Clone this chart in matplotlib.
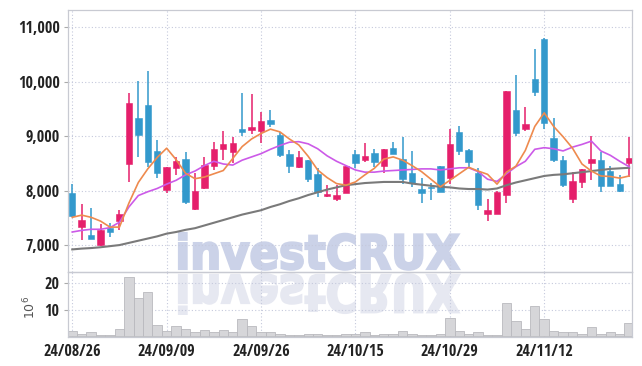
import numpy as np
import matplotlib
matplotlib.use('Agg')
import matplotlib.pyplot as plt
from matplotlib import font_manager
from matplotlib.patches import PathPatch
from matplotlib.textpath import TextPath
from matplotlib.font_manager import FontProperties
from matplotlib.transforms import Affine2D, IdentityTransform
from matplotlib.ticker import FuncFormatter

# tick labels
date_labels = ['24/08/26', '24/09/09', '24/09/26', '24/10/15', '24/10/29', '24/11/12']
date_idx = [0, 10, 20, 30, 40, 50]

# daily candles (KRW)
opens = [7950, 7330, 7180, 7010, 7310, 7450, 8490, 9330, 9580, 8730,
         8020, 8410, 8580, 7660, 8050, 8450, 8760, 8710, 9130, 9120,
         9100, 9290, 9020, 8670, 8430, 8560, 8300, 7900, 7850, 7960,
         8670, 8560, 8690, 8460, 8790, 8580, 8320, 8030, 8060, 8450,
         8240, 9070, 8740, 8330, 7570, 7580, 7920, 9480, 9130, 10050,
         10780, 8960, 8560, 7840, 8160, 8510, 8560, 8360, 8120, 8510]
highs = [8120, 7750, 7690, 7380, 7400, 7640, 9800, 10010, 10200, 8930,
         8430, 8620, 8710, 8330, 8620, 8900, 9090, 8990, 9800, 9770,
         9440, 9490, 9080, 8740, 8730, 8560, 8410, 8100, 8100, 8450,
         8740, 8870, 8760, 8770, 8900, 8980, 8730, 8240, 8140, 8460,
         9130, 9190, 8760, 8420, 7840, 7990, 9830, 10120, 9540, 10610,
         10800, 9340, 8630, 8350, 8390, 9000, 8710, 8460, 8280, 8990]
lows = [7520, 7090, 7120, 6990, 7140, 7280, 8160, 8620, 8440, 8240,
        7960, 8280, 7750, 7640, 8030, 8380, 8560, 8510, 9000, 9040,
        8880, 9170, 8620, 8320, 8410, 8150, 7880, 7880, 7810, 7960,
        8410, 8530, 8440, 8320, 8670, 8120, 8070, 7780, 7830, 7970,
        8130, 8650, 8440, 7640, 7440, 7570, 7770, 9010, 9100, 9740,
        9130, 8530, 8060, 7780, 8050, 8190, 7970, 8090, 7980, 8250]
closes = [7540, 7460, 7120, 7270, 7240, 7580, 9620, 9020, 8530, 8320,
          8430, 8540, 7800, 7990, 8470, 8760, 8850, 8880, 9080, 9170,
          9280, 9220, 8650, 8450, 8610, 8220, 7980, 7940, 7920, 8450,
          8510, 8630, 8520, 8770, 8670, 8220, 8140, 7960, 8050, 7970,
          8850, 8730, 8530, 7740, 7640, 7970, 9830, 9060, 9220, 9810,
          9240, 8560, 8100, 8170, 8390, 8580, 8090, 8090, 8000, 8600]

# moving average lines
ma_short = [7510, 7550, 7510, 7440, 7330, 7330, 7770, 8150, 8400, 8610,
            8780, 8570, 8320, 8220, 8250, 8310, 8370, 8590, 8810, 8950,
            9050, 9130, 9080, 8950, 8840, 8630, 8380, 8240, 8130, 8100,
            8160, 8290, 8410, 8580, 8620, 8560, 8460, 8350, 8210, 8070,
            8190, 8310, 8430, 8360, 8300, 8120, 8340, 8450, 8740, 9180,
            9430, 9180, 8990, 8780, 8490, 8360, 8270, 8260, 8230, 8270]
ma_mid = [7240, 7270, 7290, 7290, 7320, 7420, 7700, 7910, 7980, 8040,
          8120, 8190, 8290, 8360, 8460, 8540, 8490, 8470, 8560, 8620,
          8680, 8760, 8830, 8890, 8900, 8860, 8770, 8640, 8540, 8460,
          8380, 8340, 8340, 8360, 8370, 8380, 8390, 8400, 8400, 8380,
          8400, 8420, 8420, 8350, 8210, 8170, 8310, 8440, 8540, 8760,
          8790, 8770, 8730, 8800, 8850, 8910, 8730, 8650, 8540, 8440]
ma_long = [6920, 6935, 6945, 6960, 6980, 7000, 7040, 7080, 7120, 7160,
           7210, 7240, 7280, 7310, 7360, 7410, 7460, 7510, 7560, 7600,
           7640, 7700, 7750, 7810, 7860, 7920, 7970, 8020, 8060, 8100,
           8120, 8140, 8150, 8160, 8160, 8160, 8130, 8110, 8090, 8070,
           8060, 8040, 8030, 8030, 8020, 8040, 8100, 8150, 8190, 8230,
           8270, 8290, 8300, 8320, 8340, 8360, 8380, 8400, 8410, 8420]

# volume, millions of shares
volume = [1.9, 1.1, 1.5, 0.7, 0.7, 2.7, 22.5, 14.6, 16.9, 4.5,
          1.9, 4.1, 2.7, 1.6, 2.3, 1.5, 2.4, 1.6, 6.6, 3.9,
          1.6, 1.5, 1.0, 0.7, 0.7, 1.1, 1.1, 0.7, 0.7, 1.1,
          1.1, 1.5, 0.7, 1.1, 1.1, 1.9, 1.1, 0.7, 0.7, 1.1,
          6.9, 2.2, 1.1, 1.5, 0.7, 0.7, 12.6, 5.8, 2.7, 11.5,
          6.6, 1.9, 1.5, 1.5, 1.1, 3.4, 1.1, 1.5, 1.1, 5.2]

UP = '#E51F6B'
DOWN = '#3399CC'
GRID = '#C5C9DC'
SPINE = '#C8CAD2'

# pick a narrow bold face for the tick labels
fonts = font_manager.fontManager.ttflist
tick_fp = None
for f in fonts:
    if f.name == 'Liberation Sans Narrow' and f.weight in ('bold', 700):
        tick_fp = FontProperties(fname=f.fname)
        break
if tick_fp is None:
    for f in fonts:
        if f.name in ('Roboto Condensed', 'Open Sans Condensed') and f.weight in ('bold', 700, 600, 'semibold'):
            tick_fp = FontProperties(fname=f.fname)
            break
if tick_fp is None:
    for f in fonts:
        if f.name == 'DejaVu Sans' and f.stretch == 'condensed' and f.weight in ('bold', 700) and f.style == 'normal':
            tick_fp = FontProperties(fname=f.fname)
            break
if tick_fp is None:
    tick_fp = FontProperties(family='Roboto', weight='bold')
tick_fp.set_size(11.5)

W, H = 642, 366
fig = plt.figure(figsize=(W / 100, H / 100), dpi=100)
fig.patch.set_facecolor('white')

L, R = 68, 632
ax = fig.add_axes([L / W, 1 - 272 / H, (R - L) / W, 262 / H])
axv = fig.add_axes([L / W, 1 - 337 / H, (R - L) / W, 65 / H], sharex=ax)
ax.set_facecolor('none')
axv.set_facecolor('none')

# watermark with reflection
fp = FontProperties(family='DejaVu Sans', weight='bold')
tp = TextPath((0, 0), 'investCRUX', size=1, prop=fp)
ext = tp.get_extents()
x0, x1 = 179, 459
top, base = 233, 269
sx = (x1 - x0) / ext.width
sy = (base - top) / ext.y1
t_main = Affine2D().translate(-ext.x0, 0).scale(sx, sy).translate(x0, H - base)
t_refl = Affine2D().translate(-ext.x0, 0).scale(sx, -sy * 1.08).translate(x0, H - 275)
fig.add_artist(PathPatch(t_main.transform_path(tp), transform=IdentityTransform(),
                         facecolor='#CBD2E8', edgecolor='#CBD2E8', linewidth=1.6, zorder=-5))
fig.add_artist(PathPatch(t_refl.transform_path(tp), transform=IdentityTransform(),
                         facecolor='#E6E8F1', edgecolor='#E6E8F1', linewidth=1.6, zorder=-5))

x = np.arange(len(closes))
o = np.array(opens)
c = np.array(closes)
colors = [UP if cc >= oo else DOWN for oo, cc in zip(o, c)]

# candles
ax.vlines(x, lows, highs, colors=colors, linewidth=1.1, zorder=3)
body_h = np.maximum(np.abs(c - o), 18)
ax.bar(x, body_h, bottom=np.minimum(o, c), width=0.68, color=colors,
       edgecolor=colors, linewidth=0.4, zorder=4)

ax.plot(x, ma_long, color='#7A7A7A', linewidth=1.5, zorder=5)
ax.plot(x, ma_mid, color='#CC5AE8', linewidth=1.2, zorder=5)
ax.plot(x, ma_short, color='#EE8A4E', linewidth=1.2, zorder=6)

ax.set_ylim(6505, 11320)
ax.set_yticks([7000, 8000, 9000, 10000, 11000])
ax.yaxis.set_major_formatter(FuncFormatter(lambda v, p: f'{int(v):,}'))
ax.set_xlim(-0.45, 59.3)

# volume
axv.bar(x, volume, width=1.0, color='#D6D6D9', edgecolor='#B9B9BE', linewidth=0.6, zorder=2)
axv.set_ylim(-0.2, 24.3)
axv.set_yticks([10, 20])
axv.set_xticks(date_idx)
axv.set_xticklabels(date_labels)
axv.text(-0.068, 0.45, r'$10^6$', transform=axv.transAxes, rotation=90,
         ha='center', va='center', fontsize=9, color='#555555')

for a in (ax, axv):
    a.grid(True, color=GRID, linestyle=(0, (1, 2)), linewidth=0.8)
    a.set_axisbelow(True)
    for s in a.spines.values():
        s.set_color(SPINE)
        s.set_linewidth(0.9)
    a.tick_params(axis='y', length=3, color='#AAAAAA', pad=3, labelcolor='#222222')
    a.tick_params(axis='x', length=0, pad=5, labelcolor='#222222')
    for lab in a.get_yticklabels() + a.get_xticklabels():
        lab.set_fontproperties(tick_fp)
ax.tick_params(axis='x', labelbottom=False)
ax.set_xticks(date_idx)

fig.savefig('out.png', dpi=100)
